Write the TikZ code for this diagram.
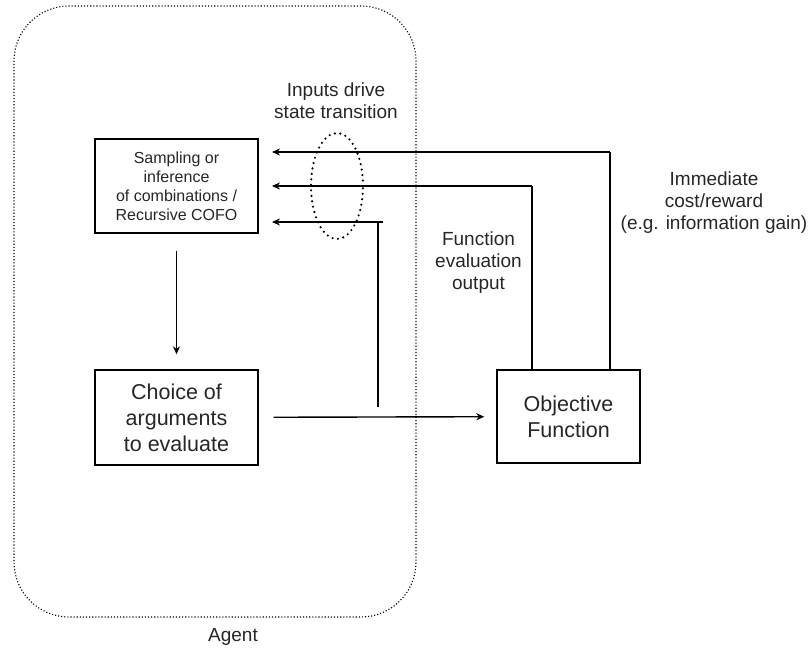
\documentclass[tikz,border=0pt]{standalone}
\usepackage{fontspec}
\setmainfont{Liberation Sans}
\usetikzlibrary{arrows.meta,shapes.geometric}
\begin{document}
\begin{tikzpicture}[x=1pt,y=-1pt,
  box/.style={draw, line width=1.4pt, align=center, inner sep=2pt},
  arr/.style={line width=1.4pt, -{Stealth[length=8pt,width=7pt]}},
  ln/.style={line width=1.4pt},
  lbl/.style={align=center, font=\fontsize{19}{22}\selectfont, text=black!85},
]
\useasboundingbox (0,0) rectangle (809,649);
% agent container
\node[draw, dotted, line width=1.1pt, rounded corners=55pt, minimum width=402pt, minimum height=611pt, inner sep=0pt] (agent) at (215,311.5) {};
\node[lbl] (agentlbl) at (233,637) {Agent};
% boxes
\node[box, minimum width=163pt, minimum height=94pt, font=\fontsize{16}{19}\selectfont, text=black!85] (samp) at (176.5,186) {Sampling or\\inference\\of combinations /\\Recursive COFO};
\node[box, minimum width=163pt, minimum height=95pt, font=\fontsize{21.5}{26}\selectfont, text=black!85] (choice) at (176.5,417.5) {Choice of\\arguments\\to evaluate};
\node[box, minimum width=143pt, minimum height=93pt, font=\fontsize{21.5}{26}\selectfont, text=black!85] (obj) at (568.5,416.5) {Objective\\Function};
% labels
\node[lbl] (inputs) at (336,101) {Inputs drive\\state transition};
\node[lbl] (feval) at (478.5,263) {Function\\evaluation\\output};
\node[lbl] (imm) at (714,203) {Immediate\\cost/reward\\(e.g. information gain)};
% ellipse
\node[draw, ellipse, dash pattern=on 0pt off 5.5pt, line cap=round, line width=2.4pt, minimum width=52pt, minimum height=106pt, inner sep=0pt] (ell) at (337,186) {};
% connectors
\draw[arr, shorten <=17pt, shorten >=15pt] (samp) -- (choice);
\draw[arr, shorten <=15pt, shorten >=12pt] (choice) -- (obj);
\coordinate (c1) at (610,152);
\coordinate (c2) at (532,186);
\coordinate (c3) at (378,222);
\coordinate (c3b) at (378,407);
\coordinate (t1) at (272,152);
\coordinate (t2) at (272,186);
\coordinate (t3) at (272,222);
\draw[ln] (obj.north -| c1) -- (c1);
\draw[arr] (c1) -- (t1);
\draw[ln] (obj.north -| c2) -- (c2);
\draw[arr] (c2) -- (t2);
\draw[ln] (c3b) -- (c3);
\draw[arr] ([xshift=5pt]c3) -- (t3);
\end{tikzpicture}
\end{document}
